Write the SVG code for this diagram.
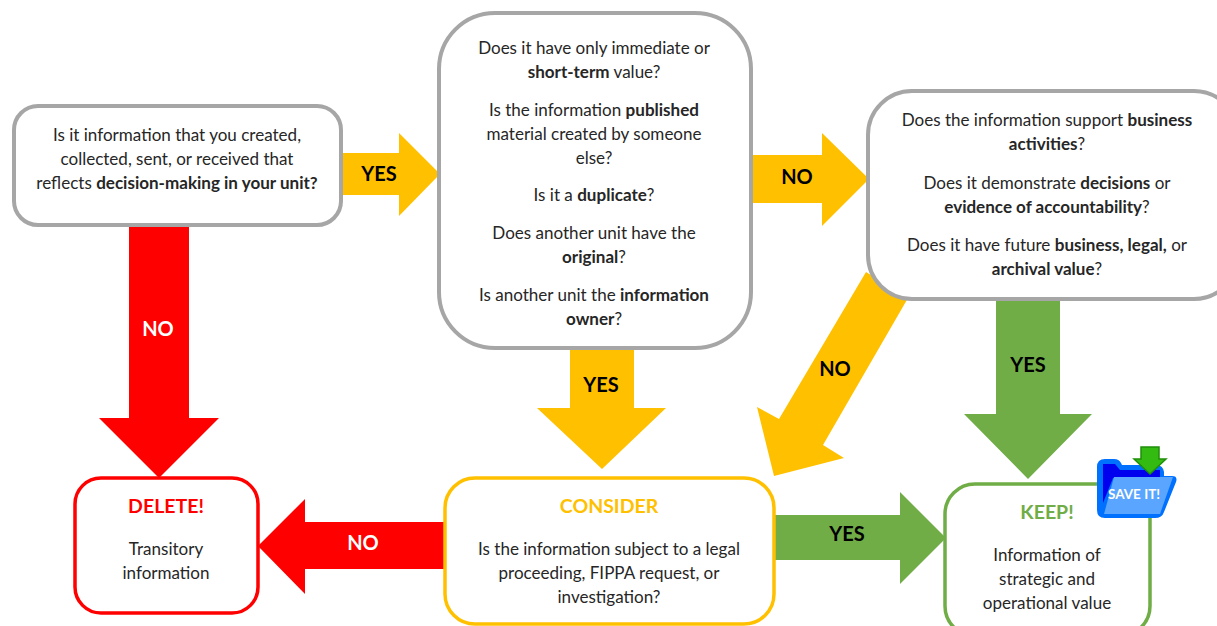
<svg xmlns="http://www.w3.org/2000/svg" width="1217" height="626" viewBox="0 0 1217 626">
<style>
text{font-family:"Lato","Open Sans","Liberation Sans",sans-serif;font-size:17.05px;text-anchor:middle;fill:#262626}
.b{font-weight:700}
.l{font-weight:700;font-size:20px;fill:#000}
.lw{font-weight:700;font-size:20px;fill:#fff}
.h{font-weight:700;font-size:19.5px}
.n{fill:#fff;stroke-width:3.5}
.gray{stroke:#a6a6a6;stroke-width:4}
.y{fill:#ffc000}.r{fill:#ff0000}.g{fill:#70ad47}
</style>
<rect width="1217" height="626" fill="#fff"/>
<g id="connectors">
<path class="y" d="M340 153H399V133L440 174L399 216V195H340Z"/>
<path class="y" d="M750 155H822V133L869 179L822 226V203H750Z"/>
<path class="y" d="M570 345H634V408H666L602 469L537 408H570Z"/>
<path class="y" d="M866 272L908 298L823 445L844 458L774 476L757 407L779 419Z"/>
<path class="r" d="M129 222H189V418H219L159 478L99 418H129Z"/>
<path class="r" d="M448 522V569H305V594L258 546L305 499V522Z"/>
<path class="g" d="M770 515H900V492L946 538L900 584V560H770Z"/>
<path class="g" d="M996 296H1060V414H1092L1028 479L964 414H996Z"/>
<text class="l" x="379" y="181">YES</text>
<text class="l" x="797" y="184">NO</text>
<text class="l" x="601" y="392">YES</text>
<text class="l" x="835" y="376">NO</text>
<text class="lw" x="158" y="336">NO</text>
<text class="lw" x="363" y="550">NO</text>
<text class="l" x="847" y="541">YES</text>
<text class="l" x="1028" y="372">YES</text>
</g>
<g id="node-start">
<rect class="n gray" x="14" y="106" width="327" height="119" rx="24"/>
<text x="177" y="141">Is it information that you created,</text>
<text x="177" y="165">collected, sent, or received that</text>
<text x="177" y="189">reflects <tspan class="b">decision-making in your unit?</tspan></text>
</g>
<g id="node-questions">
<rect class="n gray" x="439" y="13" width="312" height="335" rx="56"/>
<text x="594" y="54">Does it have only immediate or</text>
<text x="594" y="78"><tspan class="b">short-term</tspan> value?</text>
<text x="594" y="116">Is the information <tspan class="b">published</tspan></text>
<text x="594" y="140">material created by someone</text>
<text x="594" y="164">else?</text>
<text x="594" y="201">Is it a <tspan class="b">duplicate</tspan>?</text>
<text x="594" y="239">Does another unit have the</text>
<text x="594" y="263"><tspan class="b">original</tspan>?</text>
<text x="594" y="301">Is another unit the <tspan class="b">information</tspan></text>
<text x="594" y="325"><tspan class="b">owner</tspan>?</text>
</g>
<g id="node-value">
<rect class="n gray" x="868" y="91" width="370" height="208" rx="44"/>
<text x="1047" y="126">Does the information support <tspan class="b">business</tspan></text>
<text x="1047" y="150"><tspan class="b">activities</tspan>?</text>
<text x="1047" y="189">Does it demonstrate <tspan class="b">decisions</tspan> or</text>
<text x="1047" y="213"><tspan class="b">evidence of accountability</tspan>?</text>
<text x="1047" y="251">Does it have future <tspan class="b">business, legal,</tspan> or</text>
<text x="1047" y="275"><tspan class="b">archival value</tspan>?</text>
</g>
<g id="node-delete">
<rect class="n" stroke="#ff0000" x="75" y="478" width="183" height="135" rx="26"/>
<text class="h" x="166" y="513" style="fill:#ff0000">DELETE!</text>
<text x="166" y="555">Transitory</text>
<text x="166" y="579">information</text>
</g>
<g id="node-consider">
<rect class="n" stroke="#ffc000" x="445" y="478" width="329" height="146" rx="30"/>
<text class="h" x="609" y="513" style="fill:#ffc000">CONSIDER</text>
<text x="609" y="555">Is the information subject to a legal</text>
<text x="609" y="579">proceeding, FIPPA request, or</text>
<text x="609" y="603">investigation?</text>
</g>
<g id="node-keep">
<rect class="n" stroke="#70ad47" x="945" y="484" width="205" height="152" rx="30"/>
<text class="h" x="1047" y="519" style="fill:#70ad47">KEEP!</text>
<text x="1047" y="561">Information of</text>
<text x="1047" y="585">strategic and</text>
<text x="1047" y="609">operational value</text>
</g>
<g id="save-it">
<path d="M1105 459H1114Q1119 459 1121 463L1122 465H1156Q1163 465 1164 472V476H1172Q1178 476 1176 482L1164 512Q1162 518 1155 518H1105Q1097 518 1097 510V467Q1097 459 1105 459Z" fill="#0070ff"/>
<path d="M1103 464H1115L1120 470H1160V478H1113L1103 503Z" fill="#0000ee"/>
<path d="M1114 477H1173L1160 514H1104Z" fill="#5aa5ff"/>
<path d="M1141 447H1159V459H1166L1150 474L1134 459H1141Z" fill="#33bb11" stroke="#1f8f0a" stroke-width="1.5"/>
<text x="1134" y="499" style="fill:#fff;font-weight:700;font-size:13.5px">SAVE IT!</text>
</g>
</svg>
